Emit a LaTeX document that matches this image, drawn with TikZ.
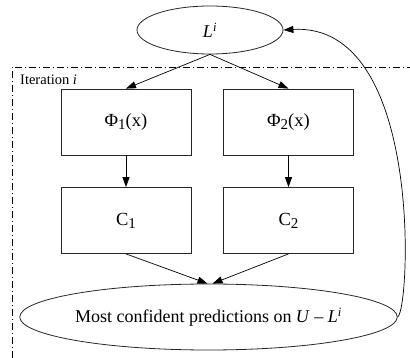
\documentclass[tikz,border=0pt]{standalone}
\usepackage{fontspec}
\setmainfont{Liberation Serif}
\usetikzlibrary{arrows.meta,shapes.geometric}
\newcommand{\lowdig}[1]{\raisebox{-0.35ex}{\fontsize{15}{16}\selectfont #1}}
\begin{document}
\begin{tikzpicture}[x=1pt,y=-1pt,
  box/.style={draw=black!85,line width=0.8pt,minimum width=130pt,minimum height=66pt,inner sep=0pt,font=\fontsize{18.5}{20}\selectfont},
  oval/.style={draw=black!85,line width=0.8pt,ellipse,inner sep=0pt,font=\fontsize{18}{20}\selectfont},
  edge/.style={-{Triangle[length=10pt,width=7pt]},line width=0.7pt},
  frame/.style={line width=0.7pt,dash pattern=on 7pt off 3pt on 1pt off 3pt}]
\useasboundingbox (0,0) rectangle (410,358);
\node[oval,minimum width=146pt,minimum height=48pt] (L) at (210,30) {\textit{L}\textsuperscript{\textit{i}}};
\node[box] (P1) at (126,122) {Φ\lowdig{1}(x)};
\node[box] (P2) at (288.5,122) {Φ\lowdig{2}(x)};
\node[box] (C1) at (126,220.5) {C\lowdig{1}};
\node[box] (C2) at (288.5,220.5) {C\lowdig{2}};
\node[oval,minimum width=297pt,minimum height=66pt] (M) at (208.5,317) {Most confident predictions on \textit{U} – \textit{L}\textsuperscript{\textit{i}}};
\coordinate (fa) at (12,358);
\coordinate (fb) at (12,67);
\coordinate (fc) at (410,67);
\draw[frame] (fa) -- (fb) -- (fc);
\node[anchor=west,font=\fontsize{14.5}{16}\selectfont,inner sep=0pt] (it) at (20,80) {Iteration \textit{i}};
\draw[edge] (L.south) -- (P1.north);
\draw[edge] (L.south) -- (P2.north);
\draw[edge] (P1) -- (C1);
\draw[edge] (P2) -- (C2);
\draw[edge] (C1.south) -- ([xshift=-1pt]M.north);
\draw[edge] (C2.south) -- ([xshift=4pt]M.north);
\draw[edge] (M.east) .. controls (410,310) and (424,22) .. (L.east);
\end{tikzpicture}
\end{document}
